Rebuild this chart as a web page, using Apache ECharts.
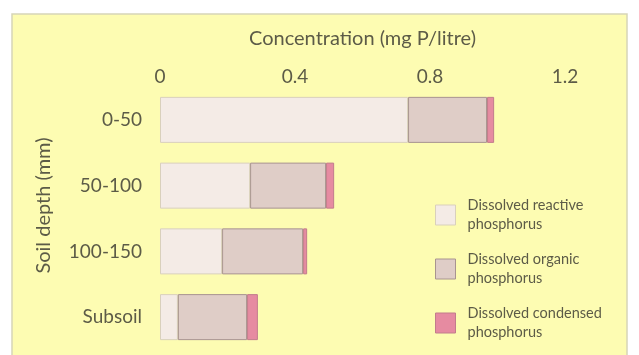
<!DOCTYPE html>
<html>
<head>
<meta charset="utf-8">
<script src="https://cdn.jsdelivr.net/npm/echarts@6/dist/echarts.min.js"></script>
<style>
  html, body { margin: 0; padding: 0; background: #ffffff; }
  #chart { width: 639px; height: 355px; }
</style>
</head>
<body>
<div id="chart"></div>
<script>
// Soil depth classes (top to bottom)
const depths = ['0-50', '50-100', '100-150', 'Subsoil'];

// Phosphorus fractions, mg P/litre
const reactiveP  = [0.735, 0.267, 0.184, 0.053];
const organicP   = [0.234, 0.225, 0.240, 0.205];
const condensedP = [0.021, 0.024, 0.012, 0.032];

const seriesNames = [
  'Dissolved reactive phosphorus',
  'Dissolved organic phosphorus',
  'Dissolved condensed phosphorus'
];
const legendLines = {
  'Dissolved reactive phosphorus': 'Dissolved reactive\nphosphorus',
  'Dissolved organic phosphorus': 'Dissolved organic\nphosphorus',
  'Dissolved condensed phosphorus': 'Dissolved condensed\nphosphorus'
};

const textColor = '#5c5b47';
const fontFamily = 'Lato, "Open Sans", sans-serif';

const chart = echarts.init(document.getElementById('chart'));

function barSeries(name, data, color, border) {
  return {
    name: name,
    type: 'bar',
    stack: 'total',
    data: data,
    barCategoryGap: '30%',
    itemStyle: { color: color, borderColor: border, borderWidth: 1 },
    emphasis: { disabled: true }
  };
}

chart.setOption({
  animation: false,
  backgroundColor: '#ffffff',
  graphic: [{
    type: 'rect',
    shape: { x: 12, y: 14, width: 615, height: 350 },
    style: { fill: '#fdfcb2', stroke: '#d6d5b8', lineWidth: 1.5 },
    z: -10
  }],
  grid: { left: 160, right: 74, top: 87, bottom: 5 },
  xAxis: {
    type: 'value',
    position: 'top',
    min: 0,
    max: 1.2,
    interval: 0.4,
    name: 'Concentration (mg P/litre)',
    nameLocation: 'middle',
    nameGap: 38,
    nameTextStyle: { color: textColor, fontSize: 20, fontFamily: fontFamily },
    axisLine: { show: false },
    axisTick: { show: false },
    splitLine: { show: false },
    axisLabel: {
      color: textColor, fontSize: 19, fontFamily: fontFamily, margin: 1,
      formatter: v => (v === 0 ? '0' : v.toFixed(1))
    }
  },
  yAxis: {
    type: 'category',
    data: depths,
    inverse: true,
    name: 'Soil depth (mm)',
    nameLocation: 'middle',
    nameRotate: 90,
    nameGap: 106,
    nameTextStyle: { color: textColor, fontSize: 20, fontFamily: fontFamily, padding: [0, 0, 0, 26] },
    axisLine: { show: false },
    axisTick: { show: false },
    axisLabel: { color: textColor, fontSize: 19, fontFamily: fontFamily, margin: 18 }
  },
  legend: {
    orient: 'vertical',
    left: 430,
    top: 191,
    itemWidth: 20,
    itemHeight: 20,
    itemGap: 16,
    icon: 'rect',
    selectedMode: false,
    data: seriesNames,
    formatter: name => legendLines[name],
    itemStyle: { borderWidth: 1 },
    textStyle: { color: textColor, fontSize: 14.5, lineHeight: 19, fontFamily: fontFamily, padding: [0, 0, 0, 7] }
  },
  series: [
    barSeries(seriesNames[0], reactiveP, '#f4ebe6', '#d9d0bc'),
    barSeries(seriesNames[1], organicP, '#dfcdc7', '#a89490'),
    barSeries(seriesNames[2], condensedP, '#e68ba1', '#c27c8c')
  ]
});
</script>
</body>
</html>
